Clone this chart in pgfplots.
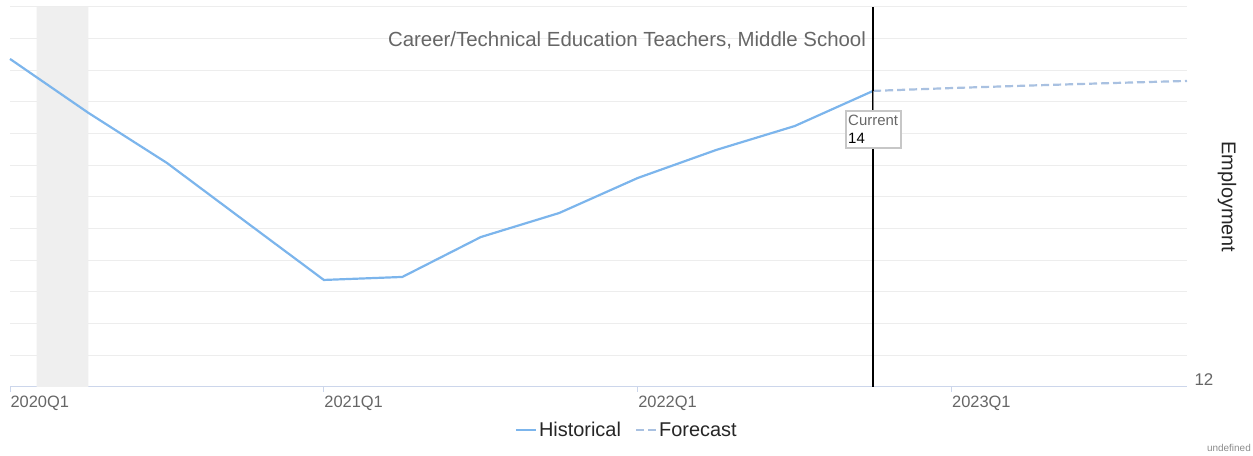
\documentclass[border=0pt]{standalone}
\usepackage{pgfplots}
\pgfplotsset{compat=1.18}
\usepackage{fontspec}
\setmainfont{Liberation Sans}
\definecolor{histblue}{HTML}{7CB5EC}
\definecolor{fcblue}{HTML}{A9C1E1}
\definecolor{gridc}{HTML}{EDEDED}
\definecolor{axisc}{HTML}{CCD6EB}
\definecolor{bandc}{HTML}{EFEFEF}
\definecolor{lab}{HTML}{666666}
\pgfplotstableread{
q val
0 14.072
1 13.731
2 13.415
3 13.045
4 12.676
5 12.695
6 12.947
7 13.099
8 13.320
9 13.497
10 13.648
11 13.870
}\histdata
\pgfplotstableread{
q val
11 13.870
12 13.888
13 13.904
14 13.919
15 13.933
}\fcstdata
\begin{document}
\begin{tikzpicture}[x=1bp,y=1bp]
\useasboundingbox (0,0) rectangle (1253,456);
\begin{axis}[
  at={(10bp,69bp)}, anchor=south west,
  scale only axis, width=1177bp, height=380bp,
  xmin=0, xmax=15, ymin=12, ymax=14.4,
  axis x line*=bottom, axis y line*=right,
  x axis line style={draw=axisc, line width=1bp, -},
  y axis line style={draw=none},
  xtick={0,4,8,12},
  xticklabels={2020Q1,2021Q1,2022Q1,2023Q1},
  xtick style={draw=axisc, line width=1bp},
  tick align=outside, major tick length=5bp,
  xticklabel style={anchor=north west, xshift=-3bp, yshift=-1bp, text=lab, font=\fontsize{16.5}{18}\selectfont},
  ytick={12}, yticklabels={12},
  ytick style={draw=none},
  yticklabel style={anchor=west, xshift=-1bp, yshift=7bp, text=lab, font=\fontsize{17}{19}\selectfont},
  minor ytick={12.2,12.4,...,14.41},
  ymajorgrids, yminorgrids,
  major grid style={draw=gridc, line width=1bp},
  minor grid style={draw=gridc, line width=1bp},
  clip=false,
  legend columns=2,
  legend style={at={(axis description cs:0.524,-0.113)}, anchor=center, draw=none, fill=none,
    font=\fontsize{20}{22}\selectfont, text=black!85,
    /tikz/every even column/.append style={column sep=12bp}},
  legend image code/.code={\draw[#1] (0bp,0bp) -- (20bp,0bp);},
]
\addplot[draw=none, fill=bandc, forget plot] coordinates {(0.34,12) (0.34,14.4) (1.0,14.4) (1.0,12)} \closedcycle;
\addplot[histblue, line width=2.2bp] table[x=q, y=val] {\histdata};
\addlegendentry{Historical}
\addplot[fcblue, line width=2.2bp, dash pattern=on 8bp off 4bp] table[x=q, y=val] {\fcstdata};
\addlegendentry{Forecast}
\addplot[black, line width=2bp, forget plot] coordinates {(11,12) (11,14.4)};
\draw[gray, line width=1bp] (axis cs:11,13.87) -- ([yshift=-19bp]axis cs:11,13.87);
\node[draw=black!22, line width=2bp, fill=white, anchor=north, align=left, inner xsep=2.5bp, inner ysep=4.5bp,
  font=\fontsize{15}{18}\selectfont] at ([yshift=-19bp]axis cs:11,13.87)
  {\textcolor{lab}{Current}\\14};
\end{axis}
\node[text=lab, font=\fontsize{20.5}{23}\selectfont] at (627,416) {Career/Technical Education Teachers, Middle School};
\node[rotate=-90, font=\fontsize{20}{22}\selectfont, text=black!85] at (1227,259) {Employment};
\node[anchor=base east, inner sep=0, text=black!45, font=\fontsize{10}{12}\selectfont] at (1251,4) {undefined};
\end{tikzpicture}
\end{document}
